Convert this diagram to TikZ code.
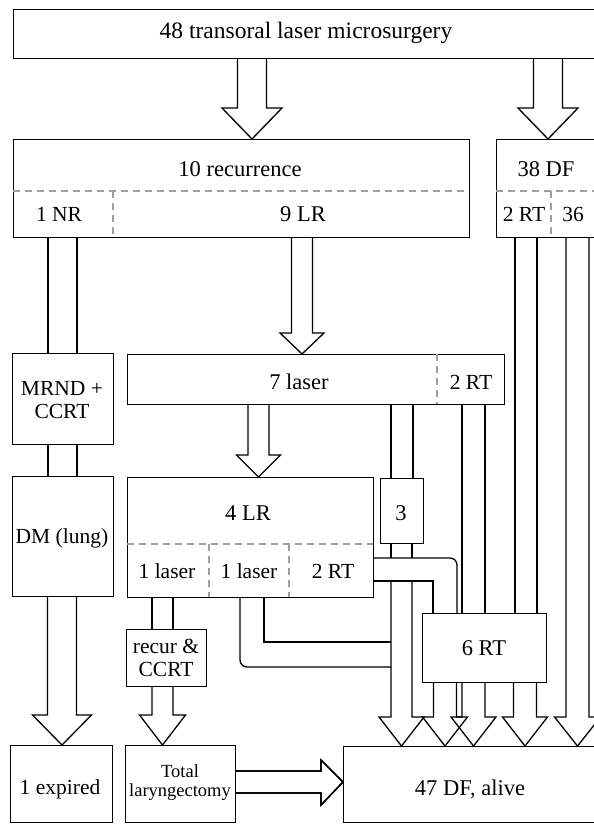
\documentclass[tikz,border=0pt]{standalone}
\usepackage{fontspec}
\setmainfont{Liberation Serif}
\tikzset{
  box/.style={draw, line width=1.3pt, anchor=north west, inner sep=0pt},
  txt/.style={font=\fontsize{21.5}{23}\selectfont, align=center, inner sep=0pt},
  bigtxt/.style={font=\fontsize{22.5}{24}\selectfont, align=center, inner sep=0pt},
  smalltxt/.style={font=\fontsize{18.5}{19}\selectfont, align=center, inner sep=0pt},
  cut/.style={draw=gray!75, line width=1.8pt, dash pattern=on 7pt off 5pt},
  pipe/.style={line width=1.3pt, line join=miter},
}
% block arrow pointing down: centre x, half shaft, half head, y start, y head, y tip
\newcommand{\blockdown}[6]{%
  \draw[pipe] ({#1-#2},#4) -- ({#1-#2},#5) -- ({#1-#3},#5) -- (#1,#6)
    -- ({#1+#3},#5) -- ({#1+#2},#5) -- ({#1+#2},#4);}
\begin{document}
\begin{tikzpicture}[x=1pt, y=-1pt]
  \clip (0,0) rectangle (594,828);
  \fill[white] (0,0) rectangle (594,828);

  % boxes
  \node[box, minimum width=590pt, minimum height=49pt] (tlm) at (13,9) {};
  \node[box, minimum width=456pt, minimum height=98pt] (rec) at (13,139) {};
  \node[box, minimum width=110pt, minimum height=98pt] (df) at (496,139) {};
  \node[box, minimum width=101pt, minimum height=91pt] (mrnd) at (12,353) {};
  \node[box, minimum width=101pt, minimum height=120pt] (dm) at (12,476) {};
  \node[box, minimum width=377pt, minimum height=50pt] (laser) at (127,354) {};
  \node[box, minimum width=246pt, minimum height=120pt] (lr) at (127,477) {};
  \node[box, minimum width=43pt, minimum height=65pt] (three) at (380,478) {};
  \node[box, minimum width=124pt, minimum height=69pt] (rt) at (422,613) {};
  \node[box, minimum width=80pt, minimum height=57pt] (recur) at (126,629) {};
  \node[box, minimum width=102pt, minimum height=77pt] (exp) at (10,745) {};
  \node[box, minimum width=110pt, minimum height=77pt] (tl) at (125,745) {};
  \node[box, minimum width=260pt, minimum height=76pt] (alive) at (343,746) {};

  % split lines
  \draw[cut] (13,191) -- (469,191);
  \draw[cut] (113,191) -- (113,237);
  \draw[cut] (496,191) -- (594,191);
  \draw[cut] (551,191) -- (551,237);
  \draw[cut] (437,354) -- (437,404);
  \draw[cut] (127,544) -- (373,544);
  \draw[cut] (209,544) -- (209,597);
  \draw[cut] (289,544) -- (289,597);

  % texts
  \node[font=\fontsize{23.5}{25}\selectfont] (tlmt) at (306,33) {48 transoral laser microsurgery};
  \node[bigtxt] (rect) at (240,169) {10 recurrence};
  \node[txt] (nr) at (59,214) {1 NR};
  \node[bigtxt] (lrnine) at (303,214) {9 LR};
  \node[bigtxt] (dft) at (546,169) {38 DF};
  \node[txt] (dfrt) at (524,214) {2 RT};
  \node[txt] (dfrest) at (573,214) {36};
  \node[txt] (mrndt) at (62,400) {MRND +\\CCRT};
  \node[txt] (dmt) at (62,538) {DM (lung)};
  \node[bigtxt] (lasert) at (299,382) {7 laser};
  \node[txt] (laserrt) at (471,382) {2 RT};
  \node[bigtxt] (lrt) at (248,513) {4 LR};
  \node[txt] (lrone) at (167,571) {1 laser};
  \node[txt] (lrtwo) at (249,571) {1 laser};
  \node[txt] (lrrt) at (333,571) {2 RT};
  \node[bigtxt] (threet) at (401,513) {3};
  \node[bigtxt] (rtt) at (484,648) {6 RT};
  \node[txt] (recurt) at (166,658) {recur \&\\CCRT};
  \node[txt] (expt) at (60,789) {1 expired};
  \node[smalltxt] (tlt) at (180,783) {Total\\laryngectomy};
  \node[bigtxt] (alivet) at (470,789) {47 DF, alive};

  % arrows and pipes
  \blockdown{252}{14.5}{30}{58}{108}{139}
  \blockdown{548}{14.5}{30}{58}{108}{139}
  \draw[pipe] (48,237) -- (48,353) (77,237) -- (77,353);
  \draw[pipe] (48,444) -- (48,476) (77,444) -- (77,476);
  \blockdown{62}{14.5}{29.5}{596}{715}{745}
  \blockdown{302}{10.5}{22}{237}{333}{354}
  \blockdown{258.5}{10.5}{22}{404}{455}{477}
  \draw[pipe] (391,404) -- (391,478) (413,404) -- (413,478);
  \draw[pipe] (391,543) -- (391,558) (412,543) -- (412,558);
  \blockdown{401.5}{10.5}{22.5}{581}{717}{746}
  \draw[pipe, rounded corners=7pt] (373,558) -- (457,558) -- (457,613);
  \draw[pipe] (373,581) -- (433,581) -- (433,613);
  \draw[pipe] (152,597) -- (152,629) (173,597) -- (173,629);
  \blockdown{162.5}{10.5}{23}{686}{715}{745}
  \draw[pipe] (264,597) -- (264,642) -- (391,642);
  \draw[pipe, rounded corners=7pt] (240,597) -- (240,667) -- (391,667);
  \draw[pipe] (462,404) -- (462,613) (485,404) -- (485,613);
  \draw[pipe] (515,237) -- (515,613) (537,237) -- (537,613);
  \blockdown{577.5}{11.5}{23}{237}{717}{746}
  \foreach \cx in {445,473.5,525}
    \blockdown{\cx}{11.5}{22.5}{682}{717}{746}
  \draw[pipe] (235,771) -- (321,771) -- (321,760) -- (343,782)
    -- (321,805) -- (321,793) -- (235,793);
\end{tikzpicture}
\end{document}
